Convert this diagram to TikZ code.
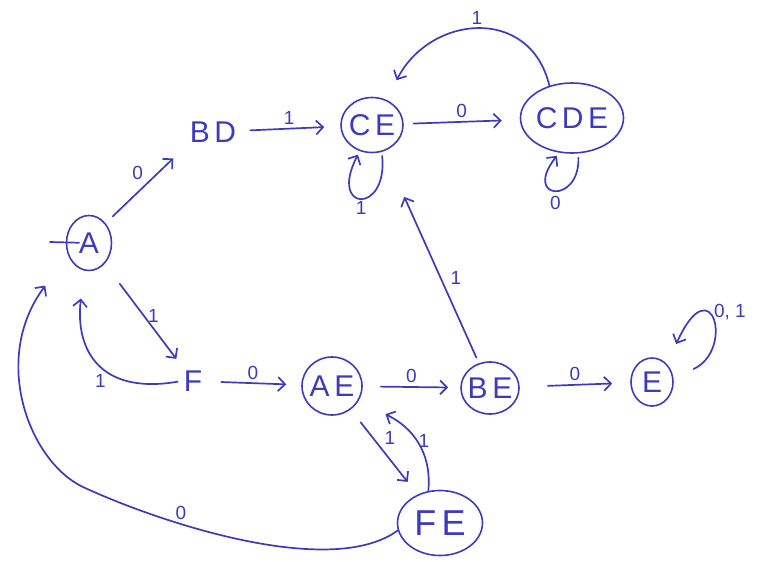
\documentclass[tikz,border=0pt]{standalone}
\usepackage{fontspec}
\setmainfont{Liberation Sans}
\newfontfamily\hand[LetterSpace=15]{Liberation Sans}
\usetikzlibrary{arrows.meta,shapes.geometric,calc}
\definecolor{ink}{RGB}{62,58,190}
\newcommand\mystate[1]{\smash{\makebox[0pt]{\raisebox{-0.358em}{#1}}}}
\tikzset{
  stt/.style={ellipse, draw=ink, line width=1.6pt, inner sep=0pt, text=ink,
    font=\hand\fontsize{30}{30}\selectfont},
  pst/.style={inner sep=2pt, text=ink, font=\hand\fontsize{30}{30}\selectfont},
  tr/.style={draw=ink, line width=1.7pt, line cap=round,
    -{Straight Barb[length=7pt,width=14pt,line width=1.7pt]}},
  plainln/.style={draw=ink, line width=1.7pt, line cap=round},
  lbl/.style={text=ink, font=\fontsize{19}{19}\selectfont, inner sep=3pt},
}
\begin{document}
\begin{tikzpicture}[x=1pt,y=-1pt]
\useasboundingbox (0,0) rectangle (769,562);

% states
\node[stt, minimum width=45pt, minimum height=55pt] (A) at (89,243) {\mystate{A}};
\node[pst] (BD) at (213,132) {BD};
\node[stt, minimum width=62pt, minimum height=55pt] (CE) at (372,125) {\mystate{CE}};
\node[stt, minimum width=103pt, minimum height=70pt] (CDE) at (572,118) {\mystate{CDE}};
\node[pst] (F) at (193,381) {F};
\node[stt, minimum width=60pt, minimum height=58pt] (AE) at (332,386) {\mystate{AE}};
\node[stt, minimum width=58pt, minimum height=52pt] (BE) at (490,388) {\mystate{BE}};
\node[stt, minimum width=42pt, minimum height=48pt] (E) at (652,382) {\mystate{E}};
\node[stt, minimum width=85pt, minimum height=65pt, font=\hand\fontsize{36}{36}\selectfont] (FE) at (440,523) {\mystate{FE}};

% start
\coordinate (init) at (50,242);
\draw[plainln, shorten >=10pt] (init) -- (A.center);

% transitions
\draw[tr, shorten <=10pt, shorten >=20pt] (A.50) -- node[lbl, above left]{0} (BD.south west);
\draw[tr, shorten <=12pt, shorten >=16pt] (BD) -- node[lbl, above]{1} (CE);
\draw[tr, shorten <=10pt, shorten >=18pt] (CE) -- node[lbl, above]{0} (CDE);
\draw[tr, shorten >=22pt] (CDE.125) .. controls (530,5) and (430,15) .. (CE.60)
  node[lbl, pos=.5, above=2pt]{1};
\draw[tr, shorten <=4pt, shorten >=4pt] (CE.-70) .. controls (388,215) and (328,212) .. (CE.-115)
  node[lbl, pos=.5, below]{1};
\draw[tr, shorten <=4pt, shorten >=4pt] (CDE.-80) .. controls (580,205) and (522,200) .. (CDE.-110)
  node[lbl, pos=.5, below=2pt]{0};

\draw[tr, shorten <=25pt, shorten >=12pt] (A) -- node[lbl, right]{1} (F);
\draw[tr, shorten <=4pt, shorten >=28pt] (F.west) .. controls (100,395) and (75,350) .. (A.-100)
  node[lbl, pos=.4, below left]{1};
\draw[tr, shorten <=17pt, shorten >=15pt] (F) -- node[lbl, above]{0} (AE);
\draw[tr, shorten <=18pt, shorten >=12pt] (AE) -- node[lbl, above]{0} (BE);
\draw[tr, shorten <=28pt, shorten >=18pt] (BE) -- node[lbl, above]{0} (E);
\draw[tr, shorten <=16pt, shorten >=16pt] (AE) -- node[lbl, pos=.45, above right]{1} (FE);
\draw[tr, shorten >=30pt] (FE.110) .. controls (432,452) and (412,427) .. (AE.-30)
  node[lbl, pos=.5, right]{1};
\draw[tr, shorten <=6pt, shorten >=50pt] (BE) -- node[lbl, pos=.4, right=6pt]{1} (CE);
\draw[tr, shorten <=22pt, shorten >=22pt] (E.10) .. controls (735,350) and (712,265) .. (E.50)
  node[lbl, pos=.5, above right]{0, 1};

\coordinate (fea) at (83,487);
\draw[tr, shorten >=38pt] (FE.190) .. controls (330,580) and (156,521) .. (fea)
  node[lbl, pos=.67, above]{0}
  .. controls (30,462) and (-10,360) .. (A.-150);
\end{tikzpicture}
\end{document}
